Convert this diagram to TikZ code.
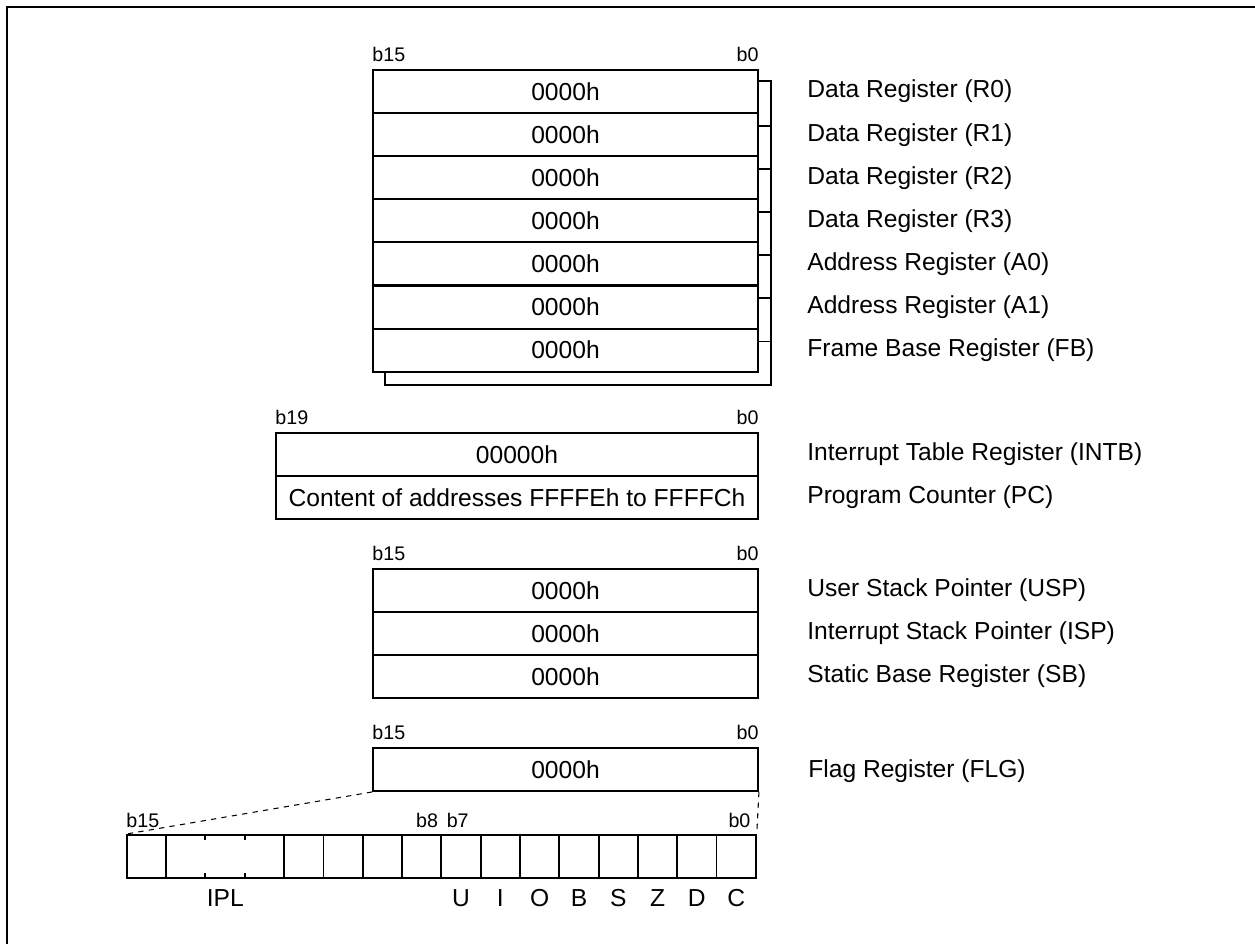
\documentclass[tikz,border=0pt]{standalone}
\usepackage{fontspec}
\setmainfont{Liberation Sans}
\usetikzlibrary{calc}

\tikzset{
	reg/.style={draw, line width=1.1pt, minimum width=7.7cm, minimum height=0.86cm, inner sep=0pt, font=\fontsize{14}{16}\selectfont},
	regname/.style={anchor=west, inner sep=0pt, font=\fontsize{14}{16}\selectfont},
	bitno/.style={inner sep=0pt, font=\fontsize{11.2}{13}\selectfont},
	bitcell/.style={draw, line width=1.1pt, minimum width=0.786cm, minimum height=0.86cm, inner sep=0pt},
	flagname/.style={inner sep=0pt, font=\fontsize{14}{16}\selectfont},
}

\begin{document}
\begin{tikzpicture}[x=0.02cm, y=-0.02cm]
		\useasboundingbox (0,0) rectangle (1255,944);
		% Frame
		\draw[line width=1.15pt] (7,944) -- (7,7) -- (1255,7);

		% Data, address and frame base registers (two banks)
		\foreach \nm/\txt [count=\i from 0] in {r0/Data Register (R0), r1/Data Register (R1), r2/Data Register (R2), r3/Data Register (R3), a0/Address Register (A0), a1/Address Register (A1), fb/Frame Base Register (FB)} {
			\node[reg] (\nm) at (565.5, {91.55+43.1*\i}) {0000h};
			\node[regname] (\nm-name) at (807, {91.55+43.1*\i}) {\txt};
		}
		\draw[line width=1.1pt] (fb.south west) ++(13,0) -- ++(0,12) -| ($(r0.north east)+(12,12)$) -- ($(r0.north east)+(0,12)$);
		\foreach \nm in {r0,r1,r2,r3,a0,a1} {
			\draw[line width=1.1pt] ($(\nm.south east)+(0,12)$) -- ++(12,0);
		}
		\node[bitno, anchor=south west] at ($(r0.north west)+(0,-7)$) {b15};
		\node[bitno, anchor=south east] at ($(r0.north east)+(0,-7)$) {b0};

		% INTB and PC
		\node[reg, minimum width=9.64cm] (intb) at (517, 454.5) {00000h};
		\node[reg, minimum width=9.64cm] (pc) at (517, 497.5) {Content of addresses FFFFEh to FFFFCh};
		\node[regname] (intb-name) at (807, 454.5) {Interrupt Table Register (INTB)};
		\node[regname] (pc-name) at (807, 497.5) {Program Counter (PC)};
		\node[bitno, anchor=south west] at ($(intb.north west)+(0,-7)$) {b19};
		\node[bitno, anchor=south east] at ($(intb.north east)+(0,-7)$) {b0};

		% Stack pointers and static base
		\foreach \nm/\txt [count=\i from 0] in {usp/User Stack Pointer (USP), isp/Interrupt Stack Pointer (ISP), sb/Static Base Register (SB)} {
			\node[reg] (\nm) at (565.5, {590.5+43*\i}) {0000h};
			\node[regname] (\nm-name) at (807, {590.5+43*\i}) {\txt};
		}
		\node[bitno, anchor=south west] at ($(usp.north west)+(0,-7)$) {b15};
		\node[bitno, anchor=south east] at ($(usp.north east)+(0,-7)$) {b0};

		% Flag register
		\node[reg] (flg) at (565.5, 769.5) {0000h};
		\node[regname] (flg-name) at (808, 771) {Flag Register (FLG)};
		\node[bitno, anchor=south west] at ($(flg.north west)+(0,-7)$) {b15};
		\node[bitno, anchor=south east] at ($(flg.north east)+(0,-7)$) {b0};

		% Flag bits
		\node[bitcell] (b15) at (146.65, 856.5) {};
		\node[bitcell, minimum width=2.358cm] (ipl) at (225.25, 856.5) {};
		\foreach \b in {11,...,0} {
			\node[bitcell] (b\b) at ({127+19.65+39.3*(15-\b)}, 856.5) {};
		}
		\foreach \t in {1,2} {
			\draw[line width=1.1pt] ($(ipl.north west)!\t/3!(ipl.north east)$) -- ++(0,6);
			\draw[line width=1.1pt] ($(ipl.south west)!\t/3!(ipl.south east)$) -- ++(0,-6);
		}
		\node[bitno, anchor=south west] at ($(b15.north west)+(0,-6)$) {b15};
		\node[bitno, anchor=south east] at ($(b8.north east)+(-4,-6)$) {b8};
		\node[bitno, anchor=south west] at ($(b7.north west)+(6,-6)$) {b7};
		\node[bitno, anchor=south east] at ($(b0.north east)+(-6,-6)$) {b0};
		\node[flagname] at ($(ipl.south)+(0,19)$) {IPL};
		\foreach \b/\f in {7/U, 6/I, 5/O, 4/B, 3/S, 2/Z, 1/D, 0/C} {
			\node[flagname] at ($(b\b.south)+(0,19)$) {\f};
		}
		\draw[dashed, line width=0.6pt] (flg.south west) -- (b15.north west);
		\draw[dashed, line width=0.6pt] (flg.south east) -- (b0.north east);
	\end{tikzpicture}
\end{document}
